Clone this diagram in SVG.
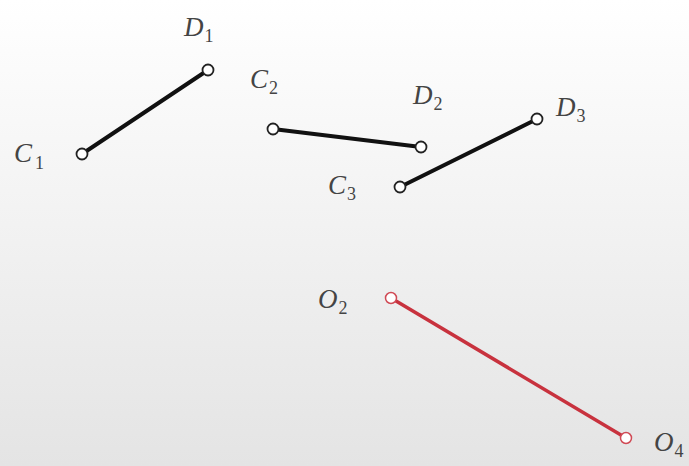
<svg xmlns="http://www.w3.org/2000/svg" width="689" height="466" viewBox="0 0 689 466">
<defs>
<linearGradient id="bg" x1="0" y1="0" x2="0" y2="1">
<stop offset="0" stop-color="#ffffff"/>
<stop offset="1" stop-color="#e4e4e4"/>
</linearGradient>
<style>
.lbl{font-family:"Liberation Serif",serif;font-style:italic;font-size:27px;fill:#444}
.sub{font-size:18px;font-style:normal}
.seg{stroke:#111;stroke-width:4;stroke-linecap:round}
.red{stroke:#c8323e;stroke-width:3.5;stroke-linecap:round}
.pt{fill:#fff;stroke:#222;stroke-width:1.8}
.ptr{fill:#fff;stroke:#d04a55;stroke-width:1.5}
</style>
</defs>
<rect width="689" height="466" fill="url(#bg)"/>
<g id="connectors">
<line class="seg" x1="82" y1="154" x2="208" y2="70"/>
<line class="seg" x1="273" y1="129" x2="421" y2="147"/>
<line class="seg" x1="400" y1="187" x2="537" y2="119"/>
<line class="red" x1="391" y1="298" x2="626" y2="438"/>
</g>
<g id="C1"><circle class="pt" cx="82" cy="154" r="5.5"/><text class="lbl" x="14" y="162">C<tspan class="sub" dx="3" dy="7">1</tspan></text></g>
<g id="D1"><circle class="pt" cx="208" cy="70" r="5.5"/><text class="lbl" x="184" y="36">D<tspan class="sub" dx="1" dy="6">1</tspan></text></g>
<g id="C2"><circle class="pt" cx="273" cy="129" r="5.5"/><text class="lbl" x="250" y="88">C<tspan class="sub" dx="1" dy="6">2</tspan></text></g>
<g id="D2"><circle class="pt" cx="421" cy="147" r="5.5"/><text class="lbl" x="413" y="104">D<tspan class="sub" dx="1" dy="6">2</tspan></text></g>
<g id="C3"><circle class="pt" cx="400" cy="187" r="5.5"/><text class="lbl" x="328" y="194">C<tspan class="sub" dx="1" dy="6">3</tspan></text></g>
<g id="D3"><circle class="pt" cx="537" cy="119" r="5.5"/><text class="lbl" x="556" y="116">D<tspan class="sub" dx="1" dy="6">3</tspan></text></g>
<g id="O2"><circle class="ptr" cx="391" cy="298" r="5.5"/><text class="lbl" x="318" y="308">O<tspan class="sub" dx="1" dy="6">2</tspan></text></g>
<g id="O4"><circle class="ptr" cx="626" cy="438" r="5.5"/><text class="lbl" x="654" y="451">O<tspan class="sub" dx="1" dy="6">4</tspan></text></g>
</svg>
